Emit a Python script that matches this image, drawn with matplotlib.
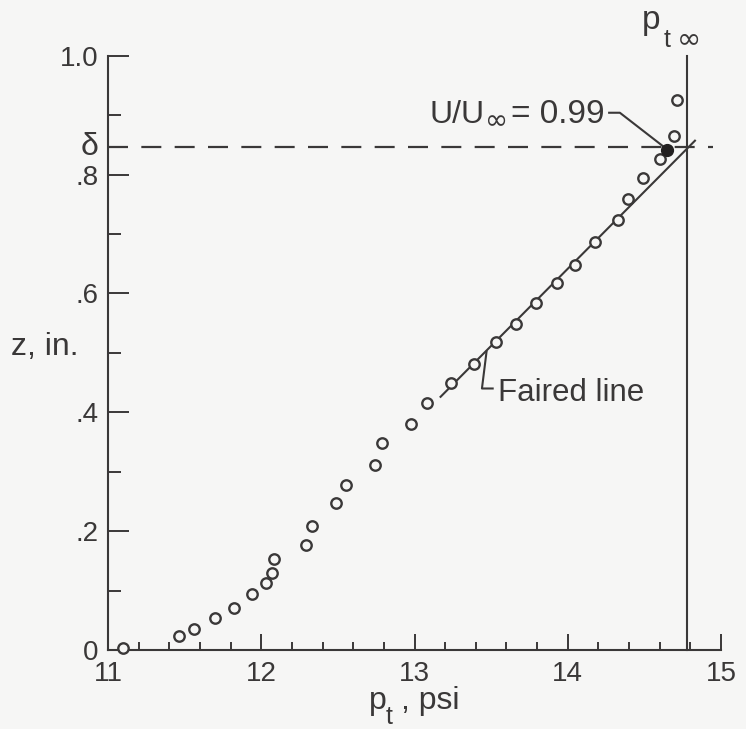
import matplotlib
matplotlib.use("Agg")
import matplotlib.pyplot as plt
from matplotlib.ticker import MultipleLocator

# =========================
# Data
# =========================

p_t = [11.10, 11.46, 11.56, 11.70, 11.82, 11.94, 12.03, 12.07, 12.08, 12.29,
       12.33, 12.49, 12.55, 12.74, 12.79, 12.98, 13.08, 13.24, 13.39, 13.53,
       13.66, 13.79, 13.93, 14.05, 14.18, 14.33, 14.39, 14.49, 14.60, 14.69,
       14.71]
z = [0.003, 0.024, 0.036, 0.054, 0.070, 0.094, 0.113, 0.130, 0.153, 0.177,
     0.208, 0.247, 0.278, 0.311, 0.348, 0.381, 0.416, 0.450, 0.482, 0.519,
     0.549, 0.584, 0.618, 0.648, 0.687, 0.724, 0.759, 0.794, 0.827, 0.865,
     0.926]

# edge point, U/Uinf = 0.99
edge_p = [14.65]
edge_z = [0.842]

faired_p = [13.17, 14.83]
faired_z = [0.426, 0.857]

p_t_inf = 14.78
delta = 0.846
delta_line_end = 14.95

x_ticks = [11, 12, 13, 14, 15]
y_ticks = [0, 0.2, 0.4, 0.6, 0.8, 1.0]
y_tick_labels = ["0", ".2", ".4", ".6", ".8", "1.0"]

# =========================
# Style
# =========================

INK = "#3a3838"
BG = "#f6f6f5"
W, H = 746, 729

plt.rcParams["font.family"] = ["Liberation Sans", "DejaVu Sans"]
plt.rcParams["text.color"] = INK

fig = plt.figure(figsize=(W / 100, H / 100), dpi=100, facecolor=BG)
ax = fig.add_axes([0.1448, 0.1084, 0.8217, 0.8152])
ax.set_facecolor(BG)

ax.set_xlim(11, 15)
ax.set_ylim(0, 1.0)

for side in ["top", "right"]:
    ax.spines[side].set_visible(False)
for side in ["left", "bottom"]:
    ax.spines[side].set_color(INK)
    ax.spines[side].set_linewidth(1.5)

ax.set_xticks(x_ticks)
ax.set_xticklabels([str(t) for t in x_ticks])
ax.set_yticks(y_ticks)
ax.set_yticklabels(y_tick_labels)
ax.xaxis.set_minor_locator(MultipleLocator(0.2))
ax.yaxis.set_minor_locator(MultipleLocator(0.1))

ax.tick_params(axis="x", which="major", direction="in", length=11.5, width=1.4,
               color=INK, labelcolor=INK, labelsize=20, pad=8)
ax.tick_params(axis="x", which="minor", direction="in", length=6, width=1.4, color=INK)
ax.tick_params(axis="y", which="major", direction="in", length=15, width=1.4,
               color=INK, labelcolor=INK, labelsize=20, pad=7)
ax.tick_params(axis="y", which="minor", direction="in", length=9, width=1.4, color=INK)


def px_text(x, y, s, size, family=None):
    # text placed by its left baseline, in pixels from the top-left corner
    kw = {"family": family} if family else {}
    fig.text(x / W, 1 - y / H, s, fontsize=size, color=INK, ha="left",
             va="baseline", **kw)


# =========================
# Lines and points
# =========================

ax.plot([11, delta_line_end], [delta, delta], color=INK, lw=1.6,
        dashes=(9, 6), clip_on=False)
ax.plot([p_t_inf, p_t_inf], [0, 1.0], color=INK, lw=1.5, clip_on=False)
ax.plot(faired_p, faired_z, color=INK, lw=1.5, clip_on=False)

ax.plot(p_t, z, "o", ms=7.5, mfc=BG, mec=INK, mew=1.7, clip_on=False, zorder=3)
ax.plot(edge_p, edge_z, "o", ms=8.5, mfc="#222020", mec="#222020", clip_on=False, zorder=4)

# =========================
# Labels and annotations
# =========================

# x label: p_t, psi
px_text(369, 709, "p", 23)
px_text(386, 724, "t", 18)
px_text(401, 709, ", psi", 23)

# y label
ax.set_ylabel("z, in.", fontsize=23, color=INK, rotation=0, ha="center", va="center")
ax.yaxis.set_label_coords(-0.103, 0.51)

ax.text(-0.016, delta, "\u03b4", transform=ax.get_yaxis_transform(),
        ha="right", va="center", fontsize=23, color=INK)

# p_t infinity label above the vertical line
px_text(642, 29, "p", 24)
px_text(664, 47, "t", 18)
px_text(677, 47, "\u221e", 21, family="DejaVu Sans")

# U/Uinf leader
ax.plot([14.27, 14.34, 14.62], [0.904, 0.904, 0.848], color=INK, lw=1.5)
px_text(429, 123, "U/U", 23)
px_text(485, 129, "\u221e", 20, family="DejaVu Sans")
px_text(511, 123, "= 0.99", 24)

# faired line leader
ax.plot([13.47, 13.44, 13.51], [0.502, 0.44, 0.44], color=INK, lw=1.5)
ax.text(13.545, 0.433, "Faired line", ha="left", va="center", fontsize=22.5, color=INK)

fig.savefig("out.png", dpi=100, facecolor=BG)
